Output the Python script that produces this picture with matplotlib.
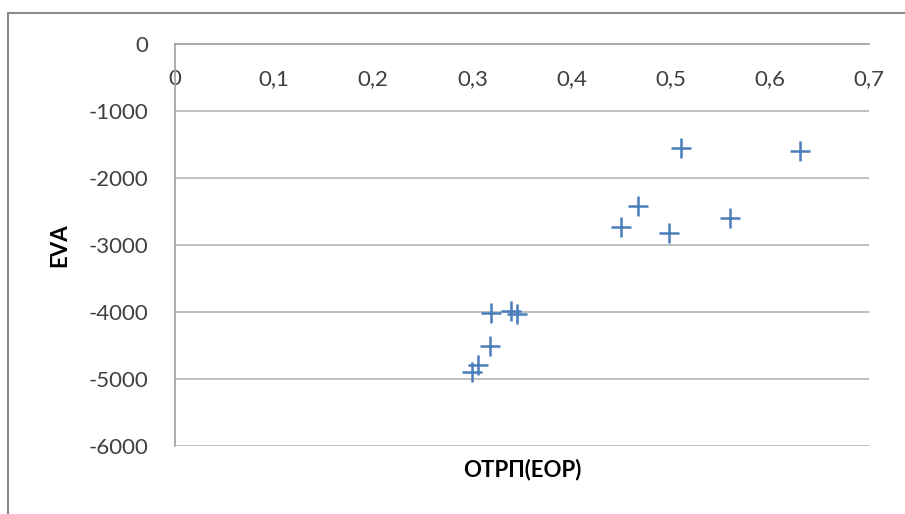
import matplotlib.pyplot as plt
from matplotlib.patches import Rectangle
from matplotlib.ticker import FuncFormatter

# points
eop = [0.300, 0.306, 0.318, 0.319, 0.339, 0.345,
       0.450, 0.467, 0.498, 0.510, 0.560, 0.630]
eva = [-4893, -4793, -4505, -4022, -3988, -4037,
       -2740, -2422, -2820, -1558, -2606, -1598]

x_ticks = [0, 0.1, 0.2, 0.3, 0.4, 0.5, 0.6, 0.7]
y_ticks = [0, -1000, -2000, -3000, -4000, -5000, -6000]

plt.rcParams['font.family'] = ['Lato', 'Open Sans', 'DejaVu Sans']
txt = '#404040'

fig = plt.figure(figsize=(9.05, 5.14), dpi=100)
# chart frame, cut off on the right and bottom like the screenshot
fig.add_artist(Rectangle((8 / 905, -0.2), 1.2, 1.2 - 13 / 514,
                         transform=fig.transFigure, fill=False,
                         edgecolor='#8c8c8c', linewidth=1.5))

ax = fig.add_axes([175 / 905, 1 - 446 / 514, 694 / 905, 402.5 / 514])
ax.scatter(eop, eva, marker='+', s=190, color='#4a7ebb', linewidths=1.8, zorder=3)

ax.set_xlim(0, 0.7)
ax.set_ylim(-6000, 0)
ax.set_xticks(x_ticks)
ax.set_yticks(y_ticks)
ax.xaxis.set_major_formatter(FuncFormatter(lambda v, p: ('%g' % v).replace('.', ',')))
ax.yaxis.set_major_formatter(FuncFormatter(lambda v, p: '%d' % v))

ax.yaxis.grid(True, color='#b4b4b4', linewidth=1.2)
ax.set_axisbelow(True)
for side in ['right', 'bottom']:
    ax.spines[side].set_visible(False)
for side in ['left', 'top']:
    ax.spines[side].set_color('#a0a0a0')
    ax.spines[side].set_linewidth(1.2)

ax.tick_params(axis='x', bottom=False, top=False, labelbottom=False, labeltop=True,
               pad=-36, labelsize=16, labelcolor=txt)
ax.tick_params(axis='y', length=0, pad=19, labelsize=16, labelcolor=txt)

ax.set_ylabel('EVA', fontsize=16, fontweight='bold', color='black', labelpad=13)
fig.text(522 / 905, 1 - 470 / 514, 'ОТРП(EOP)', fontsize=16, fontweight='bold',
         ha='center', va='center')

fig.savefig('out.png', dpi=100)
